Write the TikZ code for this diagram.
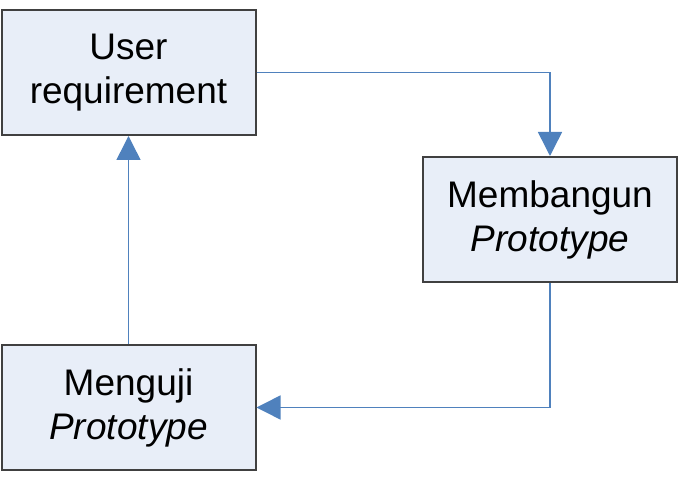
\documentclass[tikz,border=0pt]{standalone}
\usepackage{fontspec}
\setmainfont{Liberation Sans}
\usetikzlibrary{arrows.meta}
\definecolor{boxfill}{RGB}{232,238,248}
\definecolor{boxline}{RGB}{64,64,64}
\definecolor{linkblue}{RGB}{79,129,189}
\begin{document}
	\begin{tikzpicture}[x=0.5pt, y=-0.5pt, line join=miter,
		stagebox/.style={draw=boxline, fill=boxfill, line width=1pt, minimum width=127pt, minimum height=62.5pt, align=center, inner sep=0pt, font=\fontsize{18.5}{22}\selectfont},
		link/.style={draw=linkblue, line width=0.75pt, -{Triangle[width=12pt, length=12pt]}, linkblue}]
		\useasboundingbox (0, 0) rectangle (687, 481);
		\node[stagebox] (user) at (128.5, 72.5) {User\\requirement};
		\node[stagebox] (build) at (550, 219.5) {Membangun\\\textit{Prototype}};
		\node[stagebox] (test) at (128.5, 407.5) {Menguji\\\textit{Prototype}};
		\draw[link] (user.east) -| (build.north);
		\draw[link] (build.south) |- (test.east);
		\draw[link] (test.north) -- (user.south);
	\end{tikzpicture}
\end{document}
